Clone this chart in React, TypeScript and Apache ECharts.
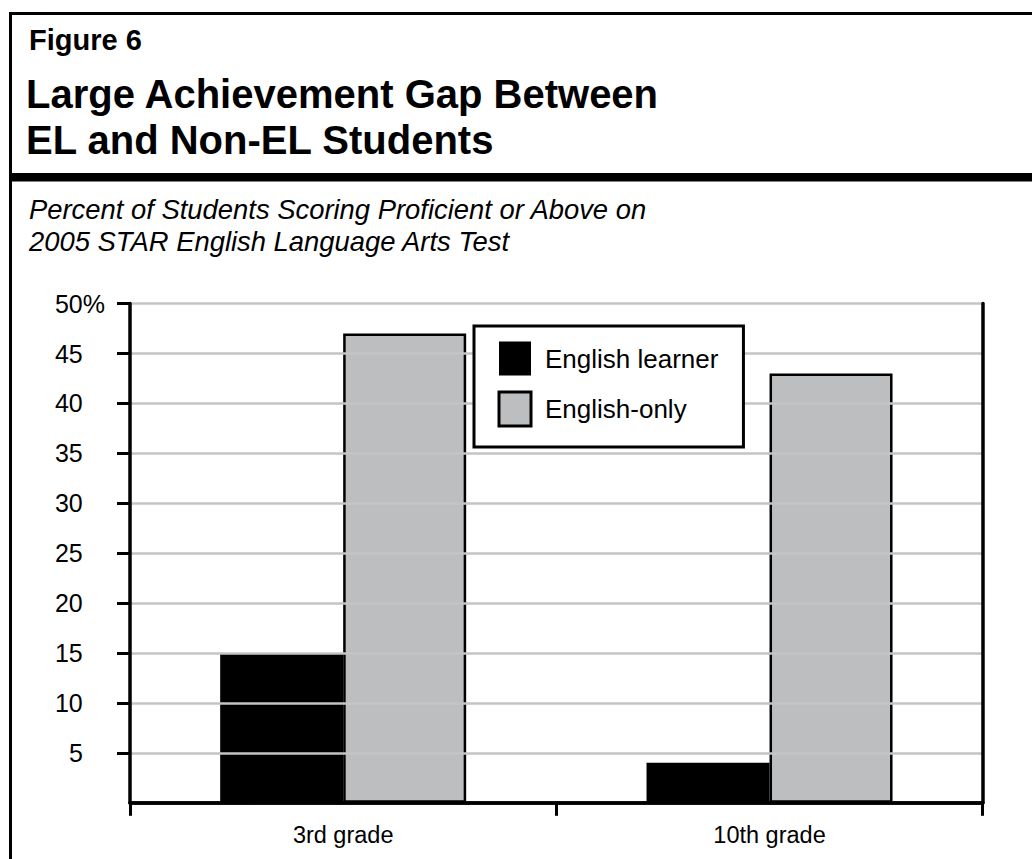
import React, { useEffect, useRef } from "react";
import * as echarts from "echarts";

const categories = ["3rd grade", "10th grade"];
const englishLearner = [15, 4];
const englishOnly = [47, 43];
const yTicks = [5, 10, 15, 20, 25, 30, 35, 40, 45, 50];
const seriesNames = ["English learner", "English-only"];

const FONT = '"Liberation Sans", Arial, Helvetica, sans-serif';

export default function App() {
  const ref = useRef<HTMLDivElement>(null);
  useEffect(() => {
    if (!ref.current) return;
    const chart = echarts.init(ref.current, null, { renderer: "svg" });
    const option: any = {
      animation: false,
      backgroundColor: "#ffffff",
      textStyle: { fontFamily: FONT },
      graphic: [
        { type: "rect", shape: { x: 9, y: 12, width: 3, height: 860 }, style: { fill: "#000" } },
        { type: "rect", shape: { x: 9, y: 12, width: 1030, height: 3 }, style: { fill: "#000" } },
        { type: "rect", shape: { x: 9, y: 173, width: 1030, height: 8.5 }, style: { fill: "#000" } },
        {
          type: "text", x: 29, y: 39.5,
          style: { text: "Figure 6", font: `bold 29px ${FONT}`, fill: "#000", verticalAlign: "middle" },
        },
        {
          type: "text", x: 26, y: 93.5,
          style: { text: "Large Achievement Gap Between", font: `bold 40px ${FONT}`, fill: "#000", verticalAlign: "middle" },
        },
        {
          type: "text", x: 26, y: 139.5,
          style: { text: "EL and Non-EL Students", font: `bold 40px ${FONT}`, fill: "#000", verticalAlign: "middle" },
        },
        {
          type: "text", x: 29, y: 209,
          style: { text: "Percent of Students Scoring Proficient or Above on", font: `italic 27.4px ${FONT}`, fill: "#000", verticalAlign: "middle" },
        },
        {
          type: "text", x: 29, y: 241,
          style: { text: "2005 STAR English Language Arts Test", font: `italic 27.4px ${FONT}`, fill: "#000", verticalAlign: "middle" },
        },
      ],
      legend: {
        orient: "vertical",
        left: 474,
        top: 326,
        padding: [15.5, 25, 19.5, 23.5],
        itemWidth: 32,
        itemHeight: 34,
        itemGap: 15,
        backgroundColor: "#ffffff",
        borderColor: "#000",
        borderWidth: 3,
        textStyle: { fontSize: 26, color: "#000", fontFamily: FONT, padding: [0, 0, 0, 9] },
        data: [
          { name: seriesNames[0], icon: "rect", itemStyle: { color: "#000", borderWidth: 0 } },
          { name: seriesNames[1], icon: "rect", itemStyle: { color: "#bdbec0", borderColor: "#000", borderWidth: 3 } },
        ],
      },
      grid: { left: 130, top: 303.6, right: 49.3, bottom: 56.2, containLabel: false },
      xAxis: [
        {
          type: "category",
          data: categories,
          z: 3,
          boundaryGap: true,
          axisLine: { show: true, lineStyle: { color: "#000", width: 3.5 } },
          axisTick: { show: true, length: 13, lineStyle: { color: "#000", width: 3 } },
          axisLabel: { fontSize: 23.5, color: "#000", margin: 20, fontFamily: FONT },
          splitLine: { show: false },
        },
        {
          type: "category",
          position: "top",
          data: categories,
          z: 3,
          axisLine: { show: true, lineStyle: { color: "#000", width: 3.5 } },
          axisTick: { show: false },
          axisLabel: { show: false },
          splitLine: { show: false },
        },
      ],
      yAxis: [
        {
          type: "value",
          min: 0,
          max: 50,
          interval: 5,
          z: 3,
          axisLine: { show: true, lineStyle: { color: "#000", width: 3.5 } },
          axisTick: { show: true, length: 13, lineStyle: { color: "#000", width: 3 }, customValues: yTicks },
          axisLabel: {
            fontSize: 25,
            color: "#000",
            margin: 25,
            fontFamily: FONT,
            customValues: yTicks,
            formatter: (v: number) => (v === 50 ? "50%" : `${v}{h|%}`),
            rich: { h: { color: "rgba(0,0,0,0)", fontSize: 25, fontFamily: FONT } },
          },
          splitLine: { show: true, lineStyle: { color: "#c4c4c4", width: 2.5 } },
        },
        {
          type: "value",
          position: "right",
          min: 0,
          max: 50,
          interval: 5,
          z: 3,
          axisLine: { show: true, lineStyle: { color: "#000", width: 3.5 } },
          axisTick: { show: false },
          axisLabel: { show: false },
          splitLine: { show: false },
        },
      ],
      series: [
        {
          name: seriesNames[0],
          type: "bar",
          data: englishLearner,
          barWidth: 123,
          barGap: "0%",
          itemStyle: { color: "#000", borderColor: "#000", borderWidth: 0 },
        },
        {
          name: seriesNames[1],
          type: "bar",
          data: englishOnly,
          barWidth: 123,
          barGap: "0%",
          itemStyle: { color: "#bdbec0", borderColor: "#000", borderWidth: 2.5 },
        },
      ],
    };
    chart.setOption(option);
    return () => chart.dispose();
  }, []);
  return (
    <div
      ref={ref}
      style={{ position: "fixed", left: 0, top: 0, width: 1032, height: 859 }}
    />
  );
}
